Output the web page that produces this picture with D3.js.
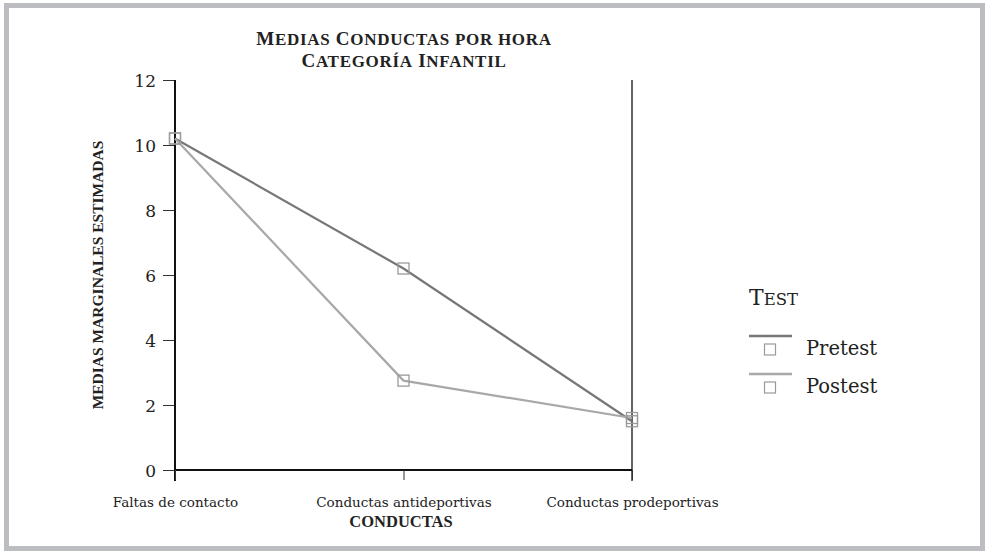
<!DOCTYPE html>
<html>
<head>
<meta charset="utf-8">
<script src="https://cdn.jsdelivr.net/npm/d3@7"></script>
<style>
  body { margin: 0; background: #fff; }
  svg text { fill: #222; }
</style>
</head>
<body>
<svg id="chart" width="985" height="552"></svg>
<script>
const categorias = ["Faltas de contacto", "Conductas antideportivas", "Conductas prodeportivas"];
const pretest = [10.2, 6.2, 1.5];
const postest = [10.2, 2.75, 1.6];
const yTicks = [0, 2, 4, 6, 8, 10, 12];
const series = [
  { nombre: "Pretest", valores: pretest, color: "#777777" },
  { nombre: "Postest", valores: postest, color: "#a8a8a8" }
];

const svg = d3.select("#chart");

// versalitas a mano: mayúscula inicial grande, resto en mayúscula pequeña
function versalitas(sel, texto, grande, peque) {
  texto.split(" ").forEach((pal, k) => {
    const sep = k > 0 ? " " : "";
    const ini = pal[0];
    if (ini === ini.toUpperCase()) {
      sel.append("tspan").attr("font-size", grande).text(sep + ini);
      sel.append("tspan").attr("font-size", peque).text(pal.slice(1).toUpperCase());
    } else {
      sel.append("tspan").attr("font-size", peque).text(sep + pal.toUpperCase());
    }
  });
}

// marco gris
svg.append("rect")
  .attr("x", 6.5).attr("y", 5.5)
  .attr("width", 976).attr("height", 543)
  .attr("fill", "none")
  .attr("stroke", "#bcbdc1")
  .attr("stroke-width", 5);

const x = d3.scalePoint().domain(categorias).range([175, 632]);
const y = d3.scaleLinear().domain([0, 12]).range([470, 80]);

// eje Y
const ejeY = svg.append("g")
  .attr("transform", "translate(175,0)")
  .call(d3.axisLeft(y).tickValues(yTicks).tickSize(12).tickPadding(7));
ejeY.select(".domain").remove();
ejeY.selectAll(".tick line").attr("stroke", "#333").attr("stroke-width", 1);
ejeY.selectAll("text")
  .attr("font-family", "DejaVu Serif")
  .attr("font-size", 17)
  .attr("dy", "0.4em")
  .attr("fill", "#222");

// lineas de ejes
svg.append("line").attr("x1", 175).attr("x2", 175).attr("y1", 80).attr("y2", 481)
  .attr("stroke", "#111").attr("stroke-width", 2);
svg.append("line").attr("x1", 632).attr("x2", 632).attr("y1", 80).attr("y2", 481)
  .attr("stroke", "#111").attr("stroke-width", 1.3);
svg.append("line").attr("x1", 175).attr("x2", 632).attr("y1", 470).attr("y2", 470)
  .attr("stroke", "#111").attr("stroke-width", 2);

// eje X
const ejeX = svg.append("g")
  .attr("transform", "translate(0,470)")
  .call(d3.axisBottom(x).tickSize(10));
ejeX.select(".domain").remove();
ejeX.selectAll(".tick line").attr("stroke", "#333");
ejeX.selectAll("text")
  .attr("font-family", "DejaVu Serif")
  .attr("font-size", 13.5)
  .attr("y", 37).attr("dy", 0)
  .attr("fill", "#222");

// lineas de series
const linea = d3.line()
  .x((d, i) => x(categorias[i]))
  .y(d => y(d));

series.forEach(s => {
  svg.append("path")
    .datum(s.valores)
    .attr("fill", "none")
    .attr("stroke", s.color)
    .attr("stroke-width", 2.2)
    .attr("d", linea);
});

series.forEach(s => {
  svg.selectAll(null)
    .data(s.valores)
    .enter().append("rect")
    .attr("x", (d, i) => x(categorias[i]) - 5.5)
    .attr("y", d => y(d) - 5.5)
    .attr("width", 11).attr("height", 11)
    .attr("fill", "none")
    .attr("stroke", "#9a9a9a")
    .attr("stroke-width", 1.3);
});

// titulo (un solo texto, dos lineas)
const titulo = svg.append("text")
  .attr("text-anchor", "middle")
  .attr("font-family", "Liberation Serif")
  .attr("font-weight", "bold")
  .style("letter-spacing", "0.7px");
const l1 = titulo.append("tspan").attr("x", 404).attr("y", 45);
versalitas(l1, "Medias Conductas por hora", 19, 17);
const l2 = titulo.append("tspan").attr("x", 404).attr("y", 66.5);
versalitas(l2, "Categoría Infantil", 19, 17);

// titulos de ejes
svg.append("text")
  .attr("transform", "translate(103,275) rotate(-90)")
  .attr("text-anchor", "middle")
  .attr("font-family", "Liberation Serif")
  .attr("font-weight", "bold")
  .attr("font-size", 15.5)
  .text("MEDIAS MARGINALES ESTIMADAS");

svg.append("text")
  .attr("x", 401).attr("y", 527)
  .attr("text-anchor", "middle")
  .attr("font-family", "Liberation Serif")
  .attr("font-weight", "bold")
  .attr("font-size", 16.5)
  .text("CONDUCTAS");

// leyenda
const tl = svg.append("text")
  .attr("x", 749).attr("y", 305)
  .attr("font-family", "DejaVu Serif");
versalitas(tl, "Test", 22, 16.5);

const leyenda = svg.selectAll(".ley")
  .data(series)
  .enter().append("g")
  .attr("class", "ley")
  .attr("transform", (d, i) => `translate(0,${336 + i * 38})`);
leyenda.append("line")
  .attr("x1", 749).attr("x2", 792)
  .attr("stroke", d => d.color).attr("stroke-width", 2.4);
leyenda.append("rect")
  .attr("x", 764.5).attr("y", 8).attr("width", 11).attr("height", 11)
  .attr("fill", "none").attr("stroke", "#9a9a9a").attr("stroke-width", 1.2);
leyenda.append("text")
  .attr("x", 806).attr("y", 19)
  .attr("font-family", "DejaVu Serif")
  .attr("font-size", 19.5)
  .text(d => d.nombre);
</script>
</body>
</html>
